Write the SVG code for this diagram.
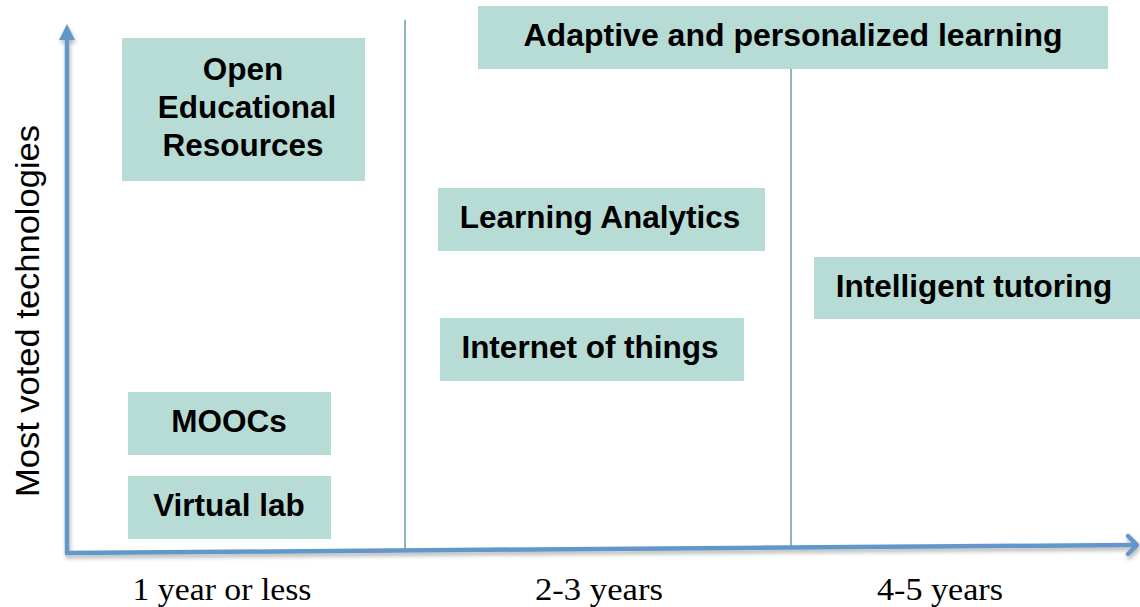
<svg xmlns="http://www.w3.org/2000/svg" width="1140" height="607" viewBox="0 0 1140 607">
<style>
.box{fill:#b7dbd5}
.lbl{font-family:"Liberation Sans",Arial,sans-serif;font-weight:bold;font-size:31.5px;fill:#000;text-anchor:middle}
.ax{font-family:"Liberation Serif","Times New Roman",serif;font-size:32px;fill:#000;text-anchor:middle}
.div{stroke:#6fa5a8;stroke-width:1.6;fill:none}
.axis{stroke:#6497c9;stroke-width:4.5;fill:none}
</style>
<defs>
<filter id="sh" x="-5%" y="-50%" width="110%" height="200%">
<feDropShadow dx="1" dy="3" stdDeviation="2" flood-color="#000" flood-opacity="0.3"/>
</filter>
</defs>
<rect width="1140" height="607" fill="#fff"/>
<g id="connectors">
<line class="div" x1="405" y1="20" x2="405" y2="550"/>
<line class="div" x1="791" y1="69" x2="791" y2="546"/>
<g filter="url(#sh)">
<line class="axis" x1="67" y1="553" x2="67" y2="38"/>
<polygon points="67,24 59,40 75,40" fill="#6497c9"/>
<line class="axis" x1="65" y1="553" x2="1134" y2="545"/>
<polyline points="1128,536 1137,545 1128,554" fill="none" stroke="#6497c9" stroke-width="4.5" stroke-linecap="round" stroke-linejoin="round"/>
</g>
</g>
<g id="node-oer">
<rect class="box" x="122" y="38" width="243" height="143"/>
<text class="lbl" x="243" y="80">Open</text>
<text class="lbl" x="247" y="118">Educational</text>
<text class="lbl" x="243" y="156">Resources</text>
</g>
<g id="node-moocs">
<rect class="box" x="128" y="392" width="203" height="63"/>
<text class="lbl" x="229" y="432">MOOCs</text>
</g>
<g id="node-virtual-lab">
<rect class="box" x="128" y="476" width="203" height="63"/>
<text class="lbl" x="229" y="516">Virtual lab</text>
</g>
<g id="node-adaptive">
<rect class="box" x="478" y="6" width="630" height="63"/>
<text class="lbl" x="793" y="46" textLength="539" lengthAdjust="spacingAndGlyphs">Adaptive and personalized learning</text>
</g>
<g id="node-learning-analytics">
<rect class="box" x="438" y="188" width="327" height="63"/>
<text class="lbl" x="600" y="228">Learning Analytics</text>
</g>
<g id="node-iot">
<rect class="box" x="440" y="318" width="304" height="63"/>
<text class="lbl" x="590" y="358">Internet of things</text>
</g>
<g id="node-intelligent-tutoring">
<rect class="box" x="814" y="257" width="326" height="62"/>
<text class="lbl" x="974" y="297">Intelligent tutoring</text>
</g>
<g id="axis-labels">
<text x="39" y="311" transform="rotate(-90 39 311)" style="font-family:'Liberation Sans',Arial,sans-serif;font-size:34px;fill:#000;text-anchor:middle" textLength="372" lengthAdjust="spacingAndGlyphs">Most voted technologies</text>
<text class="ax" x="222" y="600" textLength="179" lengthAdjust="spacingAndGlyphs">1 year or less</text>
<text class="ax" x="599" y="600" textLength="128" lengthAdjust="spacingAndGlyphs">2-3 years</text>
<text class="ax" x="940" y="600" textLength="126" lengthAdjust="spacingAndGlyphs">4-5 years</text>
</g>
</svg>
